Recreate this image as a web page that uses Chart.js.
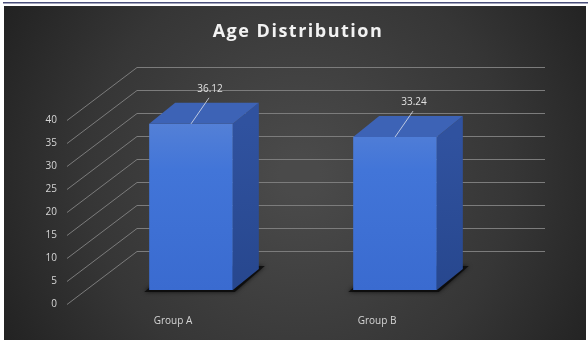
<!DOCTYPE html>
<html>
<head>
<meta charset="utf-8">
<script src="https://cdn.jsdelivr.net/npm/chart.js@4.4.1/dist/chart.umd.min.js"></script>
<style>
  html, body { margin: 0; padding: 0; background: #fff; }
  #wrap { width: 588px; height: 340px; }
</style>
</head>
<body>
<div id="wrap"><canvas id="ageChart" width="588" height="340"></canvas></div>
<script>
const chartTitle = "Age Distribution";
const categories = ["Group A", "Group B"];
const meanAge = [36.12, 33.24];
const yTickValues = [0, 5, 10, 15, 20, 25, 30, 35, 40];

// fake 3d: depth of the whole plot, where the bars stand, how deep they are
const wallDepth = { x: 70, y: -53 };
const barShift = { x: 18, y: -14 };
const barDepth = { x: 26, y: -21 };

const fontFamily = "'Open Sans', 'Noto Sans', sans-serif";

const threeD = {
  id: "threeD",
  beforeDraw(chart) {
    const ctx = chart.ctx;
    const w = chart.width, h = chart.height;
    ctx.save();
    ctx.fillStyle = "#ffffff";
    ctx.fillRect(0, 0, w, h);
    ctx.fillStyle = "#4a4f7a";
    ctx.fillRect(3, 2, w - 3, 1.5);
    const g = ctx.createRadialGradient(300, 175, 20, 300, 175, 340);
    g.addColorStop(0, "#4a4a4a");
    g.addColorStop(0.6, "#363636");
    g.addColorStop(1, "#222222");
    ctx.fillStyle = g;
    ctx.fillRect(4, 6, w - 6, h - 6);
    // title, letter spaced like the office one
    ctx.fillStyle = "#f2f2f2";
    ctx.font = "bold 18px " + fontFamily;
    ctx.letterSpacing = "1.5px";
    ctx.textAlign = "center";
    ctx.textBaseline = "middle";
    ctx.fillText(chartTitle, 298, 32);
    ctx.restore();
  },
  beforeDatasetsDraw(chart) {
    const ctx = chart.ctx;
    const { left, right } = chart.chartArea;
    const y = chart.scales.y;
    ctx.save();
    ctx.strokeStyle = "#7c7c7c";
    ctx.lineWidth = 1;
    yTickValues.forEach(v => {
      const py = Math.round(y.getPixelForValue(v)) + 0.5;
      ctx.beginPath();
      ctx.moveTo(left - 4, py);
      ctx.lineTo(left - 4 + wallDepth.x, py + wallDepth.y);
      ctx.lineTo(right + wallDepth.x - 4, py + wallDepth.y);
      ctx.stroke();
    });
    // floor shadows
    const meta = chart.getDatasetMeta(0);
    meta.data.forEach(bar => {
      const xl = bar.x - bar.width / 2 + barShift.x;
      const xr = bar.x + bar.width / 2 + barShift.x;
      const yb = bar.base + barShift.y;
      ctx.fillStyle = "rgba(10,10,10,0.85)";
      ctx.shadowColor = "rgba(0,0,0,0.8)";
      ctx.shadowBlur = 4;
      ctx.beginPath();
      ctx.moveTo(xl - 5, yb + 2);
      ctx.lineTo(xr + 2, yb + 2);
      ctx.lineTo(xr + barDepth.x + 6, yb + barDepth.y - 3);
      ctx.lineTo(xl + barDepth.x, yb + barDepth.y - 3);
      ctx.closePath();
      ctx.fill();
    });
    ctx.restore();
    ctx.save();
    ctx.translate(barShift.x, barShift.y);
  },
  afterDatasetsDraw(chart) {
    const ctx = chart.ctx;
    ctx.restore();
    const meta = chart.getDatasetMeta(0);
    ctx.save();
    meta.data.forEach((bar, i) => {
      const xl = bar.x - bar.width / 2 + barShift.x;
      const xr = bar.x + bar.width / 2 + barShift.x;
      const yt = bar.y + barShift.y;
      const yb = bar.base + barShift.y;
      // side
      const sg = ctx.createLinearGradient(0, yt, 0, yb);
      sg.addColorStop(0, "#30529f");
      sg.addColorStop(1, "#27478e");
      ctx.fillStyle = sg;
      ctx.beginPath();
      ctx.moveTo(xr, yt);
      ctx.lineTo(xr + barDepth.x, yt + barDepth.y);
      ctx.lineTo(xr + barDepth.x, yb + barDepth.y);
      ctx.lineTo(xr, yb);
      ctx.closePath();
      ctx.fill();
      // top
      ctx.fillStyle = "#3d63b6";
      ctx.beginPath();
      ctx.moveTo(xl, yt);
      ctx.lineTo(xr, yt);
      ctx.lineTo(xr + barDepth.x, yt + barDepth.y);
      ctx.lineTo(xl + barDepth.x, yt + barDepth.y);
      ctx.closePath();
      ctx.fill();
      // value label with leader line
      const cx = (xl + xr) / 2;
      const lx = cx + 19, ly = yt - 35;
      ctx.strokeStyle = "rgba(220,225,235,0.8)";
      ctx.lineWidth = 1;
      ctx.beginPath();
      ctx.moveTo(lx - 1, ly + 9);
      ctx.lineTo(cx, yt);
      ctx.stroke();
      ctx.fillStyle = "#e2e2e2";
      ctx.font = "10px " + fontFamily;
      ctx.textAlign = "center";
      ctx.textBaseline = "middle";
      ctx.fillText(meanAge[i].toFixed(2), lx, ly);
    });
    ctx.restore();
  }
};

new Chart(document.getElementById("ageChart"), {
  type: "bar",
  data: {
    labels: categories,
    datasets: [
      {
        data: meanAge,
        borderWidth: 0,
        clip: false,
        categoryPercentage: 1,
        barPercentage: 0.41,
        backgroundColor(c) {
          const area = c.chart.chartArea;
          if (!area) return "#3f72d8";
          const g = c.chart.ctx.createLinearGradient(0, area.top, 0, area.bottom);
          g.addColorStop(0, "#5a84d6");
          g.addColorStop(0.35, "#4275d8");
          g.addColorStop(1, "#3a6bd0");
          return g;
        },
      },
    ],
  },
  options: {
    responsive: false,
    animation: false,
    layout: {
      padding: { left: 10, right: 109, top: 120, bottom: 0 },
    },
    scales: {
      x: {
        grid: { display: false, drawTicks: false },
        border: { display: false },
        ticks: {
          color: "#d6d6d6",
          padding: 11,
          font: { family: fontFamily, size: 10 },
        },
        afterFit(scale) { scale.height = 36; },
      },
      y: {
        min: 0,
        max: 40,
        grid: { display: false, drawTicks: false },
        border: { display: false },
        ticks: {
          stepSize: 5,
          color: "#d6d6d6",
          padding: 14,
          font: { family: fontFamily, size: 10 },
        },
        afterFit(scale) { scale.width = 61; },
      },
    },
    plugins: {
      legend: { display: false },
      tooltip: { enabled: false },
      title: { display: false },
    },
  },
  plugins: [threeD],
});
</script>
</body>
</html>
